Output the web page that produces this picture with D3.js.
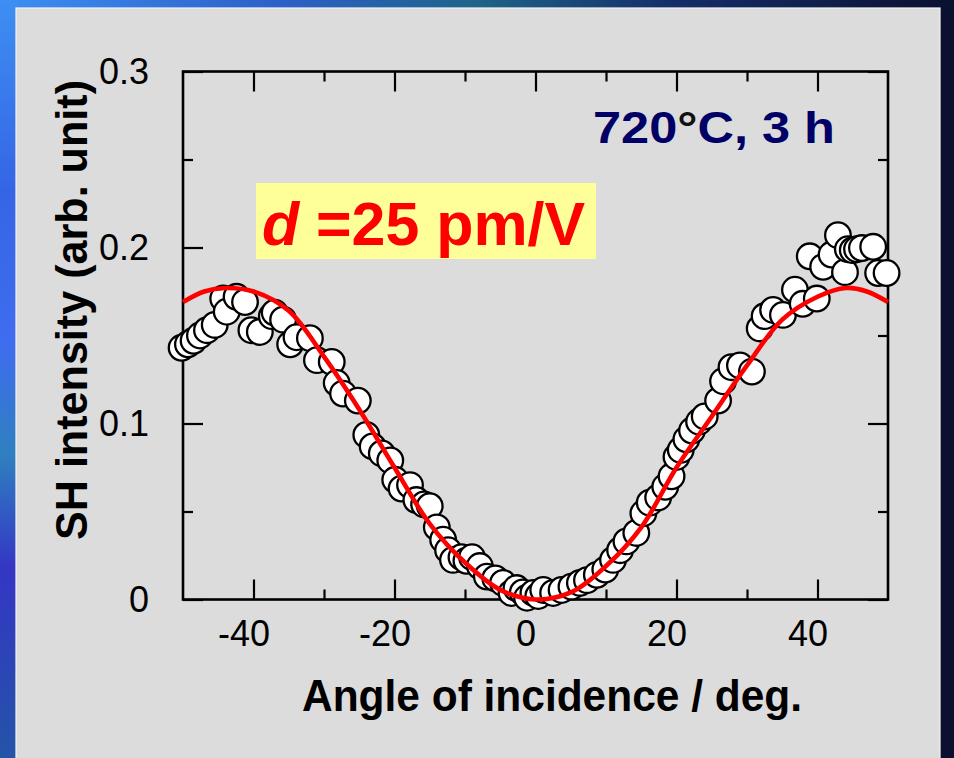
<!DOCTYPE html>
<html>
<head>
<meta charset="utf-8">
<script src="https://cdn.jsdelivr.net/npm/d3@7"></script>
<style>
  html, body { margin: 0; padding: 0; background: #dcdcdc; }
  svg { display: block; }
  text { font-family: "Liberation Sans", Arial, sans-serif; }
</style>
</head>
<body>
<svg id="chart" width="954" height="758"></svg>
<script>
// ---- data ----
const angles = [-50.2,-49.3,-48.5,-47.6,-46.6,-45.5,-44.3,-43.8,-42.4,-41.2,-40.3,-39.1,-37.4,-37.0,-35.8,-34.8,-33.9,-32.0,-31.0,-28.9,-28.2,-27.3,-25.2,-24.0,-23.1,-21.8,-20.6,-19.9,-19.0,-17.8,-16.9,-15.8,-15.0,-14.0,-13.1,-12.4,-11.7,-10.5,-9.8,-9.0,-7.9,-6.9,-5.7,-4.6,-3.4,-2.7,-1.8,-1.2,-0.3,0.4,1.1,2.5,3.7,5.1,6.3,7.3,8.7,9.9,11.0,12.0,12.9,14.3,15.3,16.2,17.4,18.4,19.3,20.0,20.6,21.4,22.2,23.2,24.0,25.9,26.6,27.8,29.0,30.7,31.8,32.5,33.7,35.1,36.8,37.9,38.9,39.9,40.8,42.0,42.9,43.9,44.3,45.0,45.6,46.3,47.9,48.6,49.8];
const intensities = [0.143,0.145,0.147,0.150,0.153,0.156,0.171,0.1635,0.172,0.169,0.153,0.152,0.161,0.163,0.159,0.145,0.149,0.1485,0.136,0.135,0.123,0.117,0.113,0.0935,0.087,0.083,0.079,0.068,0.063,0.065,0.0565,0.054,0.053,0.041,0.034,0.028,0.0225,0.024,0.022,0.024,0.019,0.013,0.012,0.0094,0.0037,0.0065,0.004,0.001,0.0037,0.002,0.0054,0.0037,0.0054,0.0073,0.0094,0.011,0.014,0.017,0.0225,0.028,0.033,0.0378,0.049,0.055,0.058,0.064,0.070,0.081,0.085,0.091,0.096,0.101,0.104,0.113,0.124,0.132,0.133,0.1295,0.154,0.161,0.1645,0.1617,0.176,0.168,0.195,0.171,0.189,0.196,0.207,0.186,0.199,0.1985,0.199,0.1997,0.2004,0.1855,0.1855];

const fitAngles = [-50,-47,-44,-40,-35,-30,-25,-20,-15,-10,-5,0,5,10,15,20,25,30,35,40,44,47,50];
const fitValues = [0.169,0.175,0.177,0.175,0.164,0.138,0.108,0.075,0.043,0.021,0.0055,0,0.004,0.019,0.041,0.075,0.104,0.133,0.159,0.172,0.177,0.175,0.169];

const xMajorTicks = [-40,-20,0,20,40];
const xMinorTicks = [-30,-10,10,30];
const yMajorTicks = [0,0.1,0.2,0.3];
const yMinorTicks = [0.05,0.15,0.25];
const yTickLabels = ["0","0.1","0.2","0.3"];

const xTitle = "Angle of incidence / deg.";
const yTitle = "SH intensity (arb. unit)";

// ---- drawing ----
const svg = d3.select("#chart");
const defs = svg.append("defs");

const gTop = defs.append("linearGradient").attr("id","gTop").attr("x1","0").attr("x2","1").attr("y1","0").attr("y2","0");
[["0%","#3d8ff2"],["30%","#2c5fc8"],["50%","#1f6488"],["70%","#152f6a"],["100%","#0b1030"]].forEach(([o,c]) =>
  gTop.append("stop").attr("offset",o).attr("stop-color",c));
const gLeft = defs.append("linearGradient").attr("id","gLeft").attr("x1","0").attr("x2","0").attr("y1","0").attr("y2","1");
[["0%","#3d8ff2"],["25%","#3565e6"],["45%","#3f6cf0"],["60%","#2f80c0"],["75%","#3436c4"],["100%","#2454a8"]].forEach(([o,c]) =>
  gLeft.append("stop").attr("offset",o).attr("stop-color",c));

svg.append("rect").attr("x",0).attr("y",0).attr("width",954).attr("height",758).attr("fill","#0b1030");
svg.append("rect").attr("x",0).attr("y",0).attr("width",954).attr("height",12).attr("fill","url(#gTop)");
svg.append("rect").attr("x",0).attr("y",0).attr("width",18).attr("height",758).attr("fill","url(#gLeft)");
svg.append("rect").attr("x",16).attr("y",8).attr("width",924).attr("height",752)
  .attr("fill","#dcdcdc").attr("stroke","#f4f4f4").attr("stroke-width",1.2);

const x = d3.scaleLinear().domain([-50,50]).range([183,888]);
const y = d3.scaleLinear().domain([0,0.3]).range([599.5,71.5]);

const axisStyle = g => {
  g.selectAll(".domain").remove();
  g.selectAll(".tick line").attr("stroke","#000").attr("stroke-width",2.2);
};

// bottom
svg.append("g").attr("transform",`translate(0,${y(0)})`)
  .call(d3.axisBottom(x).tickValues(xMajorTicks).tickSizeInner(-20).tickSizeOuter(0).tickPadding(21).tickFormat(d => String(d)))
  .call(axisStyle)
  .call(g => g.selectAll("text").attr("font-size",36).attr("fill","#000").attr("dx",-10)
    .attr("font-family","'Liberation Sans', Arial, sans-serif"));
svg.append("g").attr("transform",`translate(0,${y(0)})`)
  .call(d3.axisBottom(x).tickValues(xMinorTicks).tickSizeInner(-10).tickSizeOuter(0).tickFormat(""))
  .call(axisStyle);
// top
svg.append("g").attr("transform",`translate(0,${y(0.3)})`)
  .call(d3.axisTop(x).tickValues(xMajorTicks).tickSizeInner(-20).tickSizeOuter(0).tickFormat(""))
  .call(axisStyle);
svg.append("g").attr("transform",`translate(0,${y(0.3)})`)
  .call(d3.axisTop(x).tickValues(xMinorTicks).tickSizeInner(-10).tickSizeOuter(0).tickFormat(""))
  .call(axisStyle);
// left
svg.append("g").attr("transform",`translate(${x(-50)},0)`)
  .call(d3.axisLeft(y).tickValues(yMajorTicks).tickSizeInner(-20).tickSizeOuter(0).tickPadding(34)
    .tickFormat((d,i) => yTickLabels[i]))
  .call(axisStyle)
  .call(g => g.selectAll("text").attr("font-size",36).attr("fill","#000")
    .attr("font-family","'Liberation Sans', Arial, sans-serif"));
svg.append("g").attr("transform",`translate(${x(-50)},0)`)
  .call(d3.axisLeft(y).tickValues(yMinorTicks).tickSizeInner(-10).tickSizeOuter(0).tickFormat(""))
  .call(axisStyle);
// right
svg.append("g").attr("transform",`translate(${x(50)},0)`)
  .call(d3.axisRight(y).tickValues(yMajorTicks).tickSizeInner(-20).tickSizeOuter(0).tickFormat(""))
  .call(axisStyle);
svg.append("g").attr("transform",`translate(${x(50)},0)`)
  .call(d3.axisRight(y).tickValues(yMinorTicks).tickSizeInner(-10).tickSizeOuter(0).tickFormat(""))
  .call(axisStyle);

// frame
svg.append("rect").attr("x",x(-50)).attr("y",y(0.3)).attr("width",x(50)-x(-50)).attr("height",y(0)-y(0.3))
  .attr("fill","none").attr("stroke","#000").attr("stroke-width",2.6);

// label box
svg.append("rect").attr("x",256).attr("y",183).attr("width",340).attr("height",76).attr("fill","#ffff99");
const dt = svg.append("text").attr("x",262).attr("y",245).attr("font-size",62).attr("font-weight","bold")
  .attr("fill","#ff0000").attr("textLength",323).attr("lengthAdjust","spacingAndGlyphs");
dt.append("tspan").attr("font-style","italic").text("d");
dt.append("tspan").text(" =25 pm/V");

// data points
const pts = angles.map((a,i) => ({a, v: intensities[i]}));
svg.append("g").selectAll("circle").data(pts).join("circle")
  .attr("cx", d => x(d.a)).attr("cy", d => y(d.v)).attr("r",12.8)
  .attr("fill","#fff").attr("stroke","#000").attr("stroke-width",2.3);

// fit curve
const fit = fitAngles.map((a,i) => ({a, v: fitValues[i]}));
svg.append("path").datum(fit)
  .attr("d", d3.line().x(d => x(d.a)).y(d => y(d.v)).curve(d3.curveCatmullRom.alpha(0.5)))
  .attr("fill","none").attr("stroke","#ff0000").attr("stroke-width",4.6);

// annotation
const ann = svg.append("text").attr("x",593).attr("y",143).attr("font-size",45).attr("font-weight","bold")
  .attr("fill","#000066").attr("textLength",242).attr("lengthAdjust","spacingAndGlyphs");
ann.append("tspan").text("720");
ann.append("tspan").attr("fill","#111").text("°");
ann.append("tspan").text("C, 3 h");

// axis titles
svg.append("text").attr("x",552).attr("y",711).attr("text-anchor","middle").attr("font-size",44)
  .attr("font-weight","bold").attr("fill","#000").attr("textLength",500).attr("lengthAdjust","spacingAndGlyphs")
  .text(xTitle);
svg.append("text").attr("transform","translate(87,310) rotate(-90)").attr("text-anchor","middle")
  .attr("font-size",44).attr("font-weight","bold").attr("fill","#000")
  .attr("textLength",460).attr("lengthAdjust","spacingAndGlyphs").text(yTitle);
</script>
</body>
</html>
